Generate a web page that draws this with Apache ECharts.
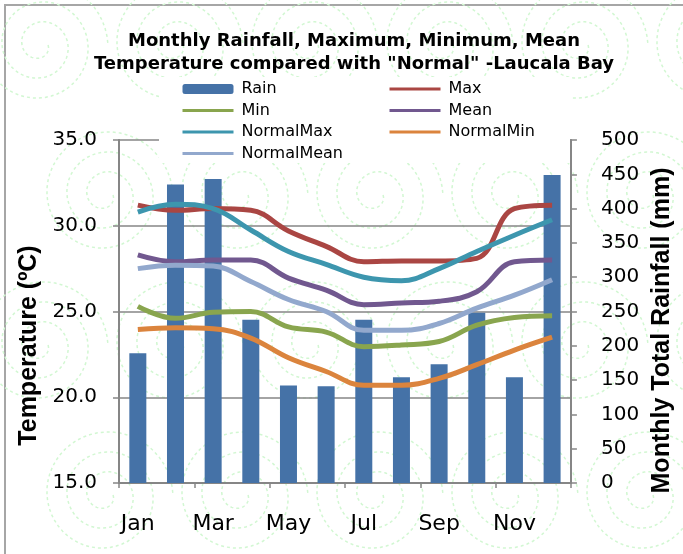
<!DOCTYPE html>
<html>
<head>
<meta charset="utf-8">
<script src="https://cdn.jsdelivr.net/npm/echarts@6/dist/echarts.min.js"></script>
<style>
    html, body { margin: 0; padding: 0; background: #fff; }
    #chart { width: 683px; height: 554px; }
</style>
</head>
<body>
<div id="chart"></div>
<script>
// monthly values
const months = ["Jan", "Feb", "Mar", "Apr", "May", "Jun", "Jul", "Aug", "Sep", "Oct", "Nov", "Dec"];
const rain = [189, 435, 443, 238, 142, 141, 238, 154, 173, 248, 154, 449];
const tMax = [31.2, 30.9, 31.0, 30.9, 29.7, 28.8, 27.9, 27.95, 27.95, 28.1, 31.0, 31.2];
const tMin = [25.3, 24.6, 24.95, 25.0, 24.1, 23.8, 22.95, 23.05, 23.25, 24.2, 24.65, 24.75];
const tMean = [28.3, 27.9, 28.0, 28.0, 26.95, 26.25, 25.4, 25.5, 25.6, 26.15, 27.9, 28.0];
const normalMax = [30.8, 31.25, 31.0, 29.75, 28.5, 27.75, 27.0, 26.8, 27.5, 28.5, 29.45, 30.35];
const normalMin = [23.95, 24.05, 24.0, 23.45, 22.3, 21.5, 20.7, 20.7, 21.1, 21.9, 22.75, 23.5];
const normalMean = [27.5, 27.7, 27.65, 26.75, 25.7, 25.0, 23.9, 23.9, 24.3, 25.2, 25.95, 26.85];

const colors = { rain: "#4572A7", max: "#AA4643", min: "#89A54E", mean: "#71588F",
                 nmax: "#3D96AE", nmin: "#DB843D", nmean: "#92A8CD" };
const font = "'Liberation Sans', Arial, sans-serif";
const wide = "'DejaVu Sans', sans-serif";   // reference text is horizontally stretched
const grey = "#868686";

// background swirls (decoration only)
function spiral(cx, cy, turns, r0, step) {
    const pts = [];
    for (let a = 0; a <= turns * Math.PI * 2; a += 0.12) {
        const r = r0 + step * a / (Math.PI * 2);
        pts.push([cx + r * Math.cos(a), cy + r * Math.sin(a)]);
    }
    return {
        type: "polyline", z: -1, silent: true,
        shape: { points: pts },
        style: { stroke: "#d2f7d2", lineWidth: 1.5, lineDash: [3, 3], fill: null }
    };
}
const swirls = [];
for (let j = 0; j < 4; j++) {
    for (let i = 0; i < 6; i++) {
        swirls.push(spiral(40 + i * 135 + (j % 2 ? 65 : 0), 45 + j * 150, 3, 8, 20));
    }
}

function lineSeries(name, data, color) {
    return {
        name: name, type: "line", yAxisIndex: 0, data: data,
        smooth: 0.4, symbol: "none",
        lineStyle: { color: color, width: 5 },
        itemStyle: { color: color }
    };
}

// legend entries: plain line icons, no marker
function legendItem(name) {
    return name === "Rain" ? { name: name } : { name: name, itemStyle: { opacity: 0 } };
}
const legendBase = {
    orient: "vertical", top: 81, itemGap: 5.5, padding: 0,
    itemWidth: 51, itemHeight: 10, z: 5,
    textStyle: { fontSize: 16, color: "#000", fontFamily: wide, padding: [0, 0, 0, 3] },
    lineStyle: { width: 3 }
};

const chart = echarts.init(document.getElementById("chart"), null, { renderer: "canvas" });
chart.setOption({
    backgroundColor: "#fff",
    animation: false,
    textStyle: { fontFamily: font },
    title: {
        text: 'Monthly Rainfall, Maximum, Minimum, Mean\nTemperature compared with "Normal" -Laucala Bay',
        left: 349, top: 25, textAlign: "center",
        textStyle: { fontSize: 18, fontWeight: "bold", color: "#000", lineHeight: 23, fontFamily: wide }
    },
    graphic: [
        { type: "rect", z: -2, silent: true, shape: { x: 5, y: 5, width: 700, height: 600 },
          style: { fill: null, stroke: "#a6a6a6", lineWidth: 2 } },
        ...swirls,
        { type: "rect", z: 3, silent: true, shape: { x: 159, y: 77, width: 411, height: 86 },
          style: { fill: "#fff" } }
    ],
    legend: [
        Object.assign({ left: 181, data: ["Rain", "Min", "NormalMax", "NormalMean"].map(legendItem) }, legendBase),
        Object.assign({ left: 388, data: ["Max", "Mean", "NormalMin"].map(legendItem) }, legendBase)
    ],
    grid: { left: 119, right: 101, top: 140, bottom: 71 },
    xAxis: {
        type: "category", data: months, boundaryGap: true,
        axisLine: { lineStyle: { color: grey, width: 2 } },
        axisTick: { show: true, length: 5, lineStyle: { color: grey, width: 1.5 } },
        axisLabel: { interval: 1, fontSize: 22, color: "#000", margin: 30, fontFamily: wide }
    },
    yAxis: [
        {
            type: "value", min: 15, max: 35, interval: 5,
            name: "Temperature (ºC)", nameLocation: "middle", nameGap: 75, nameRotate: 90,
            nameTextStyle: { fontSize: 25, fontWeight: "bold", color: "#000", padding: [0, 68, 0, 0] },
            axisLine: { show: true, lineStyle: { color: grey, width: 2 } },
            axisTick: { show: true, length: 6, lineStyle: { color: grey, width: 1.5 } },
            axisLabel: { fontSize: 20, color: "#000", margin: 22, fontFamily: wide, formatter: v => v.toFixed(1) },
            splitLine: { show: true, lineStyle: { color: grey, width: 1.5 } }
        },
        {
            type: "value", min: 0, max: 500, interval: 50, position: "right",
            name: "Monthly Total Rainfall (mm)", nameLocation: "middle", nameGap: 70, nameRotate: 90,
            nameTextStyle: { fontSize: 25, fontWeight: "bold", color: "#000", padding: [0, 38, 0, 0] },
            axisLine: { show: true, lineStyle: { color: grey, width: 2 } },
            axisTick: { show: true, length: 6, lineStyle: { color: grey, width: 1.5 } },
            axisLabel: { fontSize: 20, color: "#000", margin: 30, fontFamily: wide },
            splitLine: { show: false }
        }
    ],
    series: [
        { name: "Rain", type: "bar", yAxisIndex: 1, data: rain, barWidth: 17,
          itemStyle: { color: colors.rain } },
        lineSeries("Max", tMax, colors.max),
        lineSeries("Min", tMin, colors.min),
        lineSeries("Mean", tMean, colors.mean),
        lineSeries("NormalMax", normalMax, colors.nmax),
        lineSeries("NormalMin", normalMin, colors.nmin),
        lineSeries("NormalMean", normalMean, colors.nmean)
    ]
});
window.addEventListener("resize", () => chart.resize());
</script>
</body>
</html>
